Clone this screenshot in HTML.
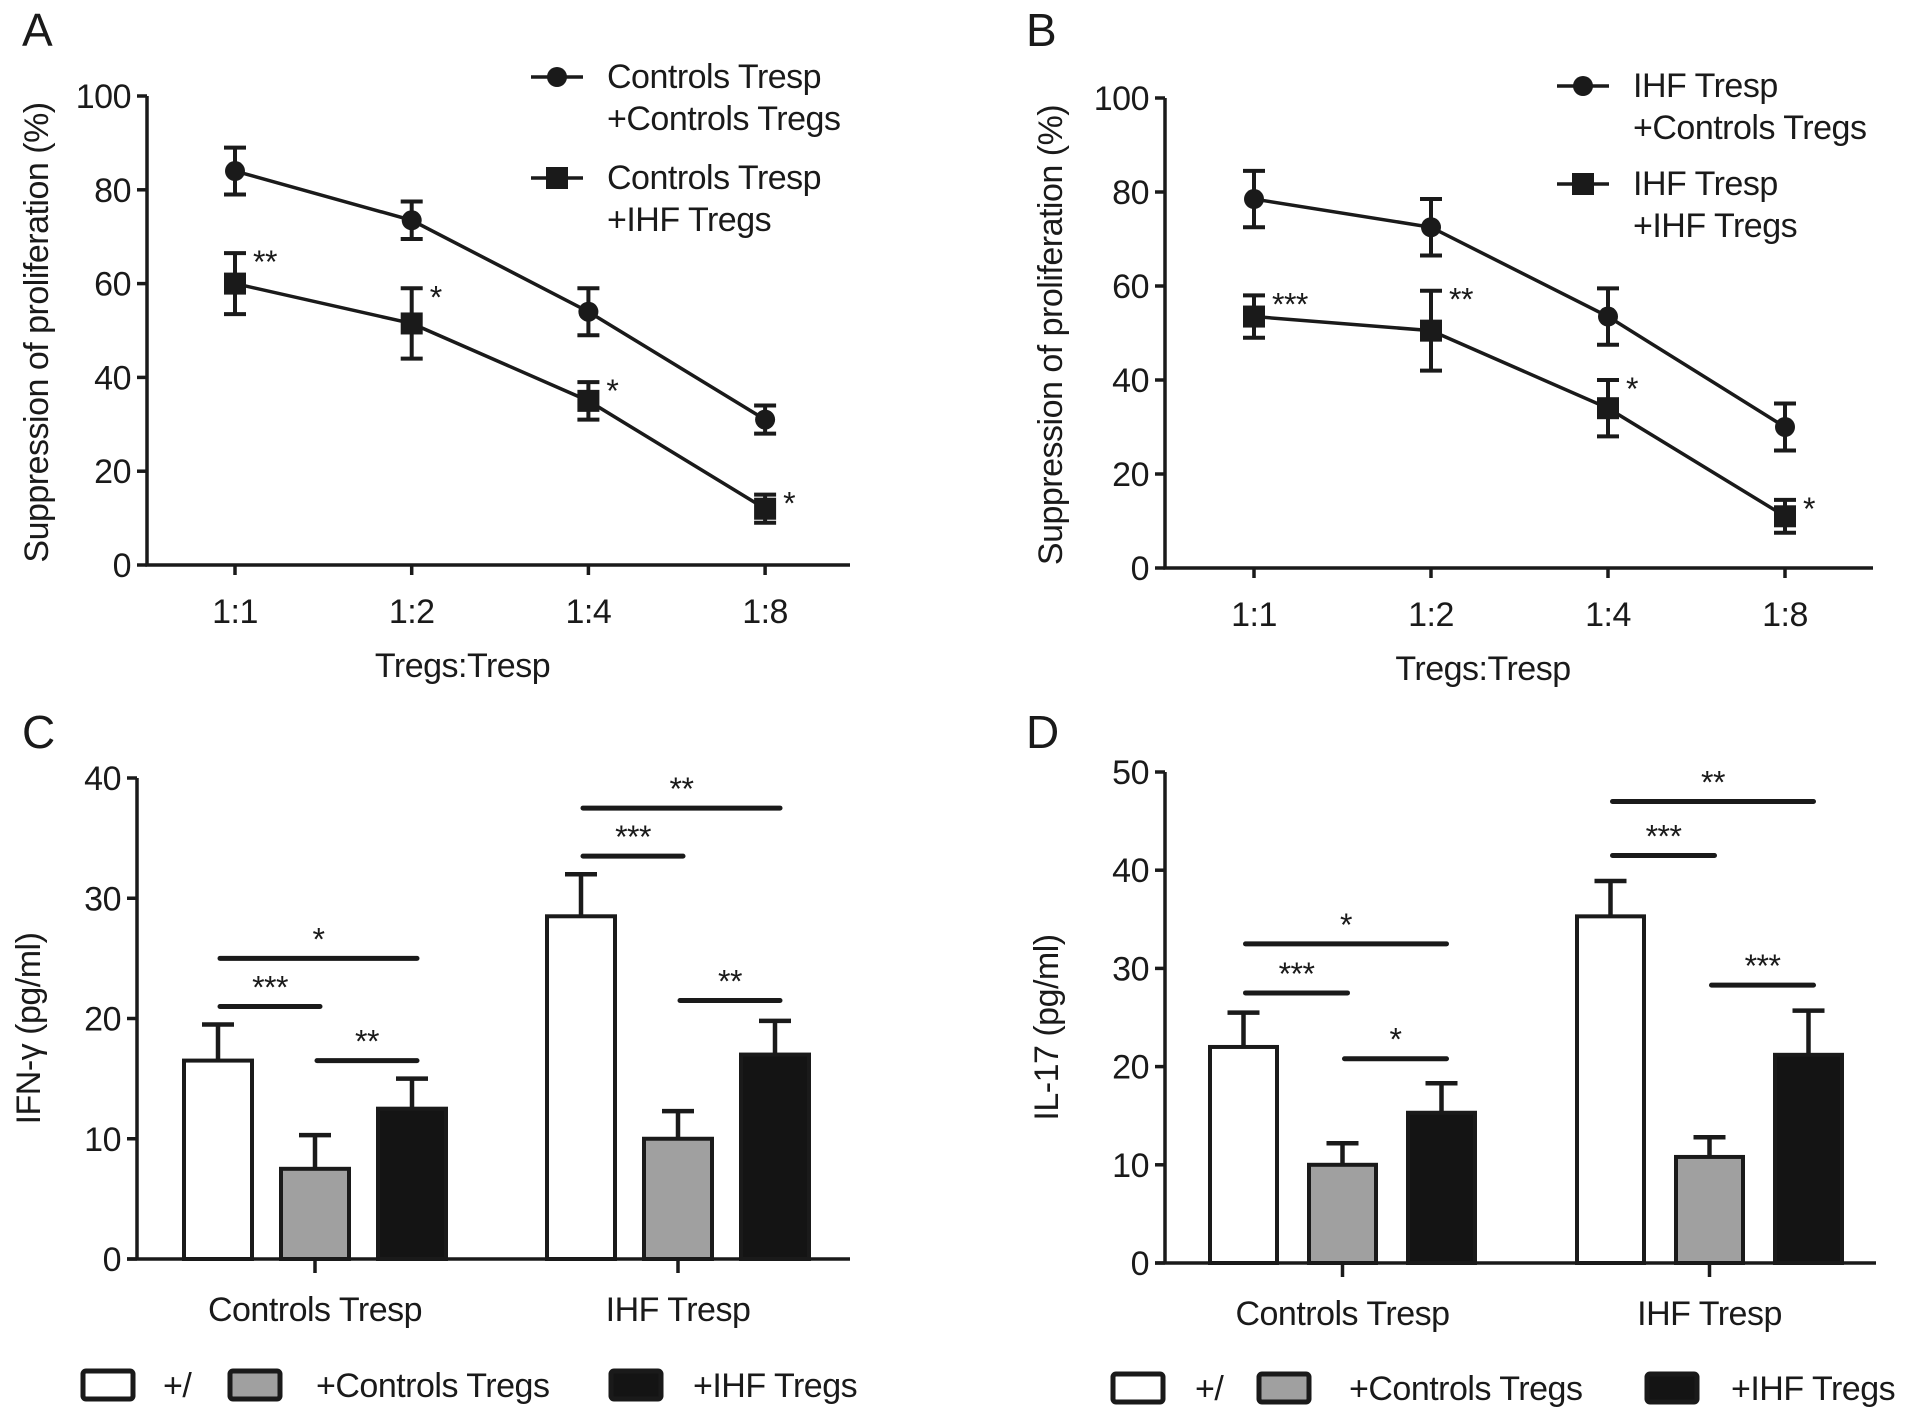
<!DOCTYPE html>
<html><head><meta charset="utf-8">
<style>
html,body{margin:0;padding:0;background:#fff;}
svg{display:block;font-family:"Liberation Sans",Arial,sans-serif;}
</style></head>
<body>
<svg id="fig" width="1913" height="1423" viewBox="0 0 1913 1423" xmlns="http://www.w3.org/2000/svg"></svg>
<script>
// ---------- DATA ----------
const ratioCats = ["1:1","1:2","1:4","1:8"];
const aCtrlTregs = [84, 73.5, 54, 31];
const aCtrlTregsErr = [5, 4, 5, 3];
const aIhfTregs = [60, 51.5, 35, 12];
const aIhfTregsErr = [6.5, 7.5, 4, 3];
const aStars = ["**","*","*","*"];
const bCtrlTregs = [78.5, 72.5, 53.5, 30];
const bCtrlTregsErr = [6, 6, 6, 5];
const bIhfTregs = [53.5, 50.5, 34, 11];
const bIhfTregsErr = [4.5, 8.5, 6, 3.5];
const bStars = ["***","**","*","*"];
const lineTicks = [0,20,40,60,80,100];

const groupCats = ["Controls Tresp","IHF Tresp"];
const cNone = [16.5, 28.5], cNoneErr = [3, 3.5];
const cCtrl = [7.5, 10], cCtrlErr = [2.8, 2.3];
const cIhf = [12.5, 17], cIhfErr = [2.5, 2.8];
const cTicks = [0,10,20,30,40];
const dNone = [22, 35.3], dNoneErr = [3.5, 3.6];
const dCtrl = [10, 10.8], dCtrlErr = [2.2, 2];
const dIhf = [15.3, 21.2], dIhfErr = [3, 4.5];
const dTicks = [0,10,20,30,40,50];
// brackets: [group, fromBar, toBar, value level, label]
const cBrackets = [[0,0,2,25,"*"],[0,0,1,21,"***"],[0,1,2,16.5,"**"],[1,0,2,37.5,"**"],[1,0,1,33.5,"***"],[1,1,2,21.5,"**"]];
const dBrackets = [[0,0,2,32.5,"*"],[0,0,1,27.5,"***"],[0,1,2,20.8,"*"],[1,0,2,47,"**"],[1,0,1,41.5,"***"],[1,1,2,28.3,"***"]];

// ---------- helpers ----------
const NS="http://www.w3.org/2000/svg";
const svg=document.getElementById('fig');
function mk(tag,attrs,parent){const e=document.createElementNS(NS,tag);for(const k in attrs)e.setAttribute(k,attrs[k]);(parent||svg).appendChild(e);return e;}
function txt(x,y,s,size,anchor,parent,extra){const t=mk('text',Object.assign({x:x,y:y,'font-size':size,'text-anchor':anchor||'middle',fill:'#1a1a1a','letter-spacing':'-0.5'},extra||{}),parent);t.textContent=s;return t;}
const LW=3.5;
const FS=34;

function panelLabel(x,y,s){const t=txt(x,y,s,46,'start');

}

// ---------- line panel ----------
function linePanel(p){
  const g=mk('g',{});
  
  
  const yS=v=>p.y0+(p.y100-p.y0)*v/100;
  const xS=i=>p.xs[0]+i*(p.xs[1]-p.xs[0]);
  const ax=mk('path',{d:`M${p.ax},${p.y100} L${p.ax},${p.y0} L${p.axEnd},${p.y0}`,stroke:'#1a1a1a','stroke-width':LW,fill:'none'},g);
  
  
  lineTicks.forEach(v=>{
    mk('line',{x1:p.ax-10,x2:p.ax,y1:yS(v),y2:yS(v),stroke:'#1a1a1a','stroke-width':LW},g);
    const t=txt(p.ax-16,yS(v)+12,String(v),FS,'end',g);
    
    
  });
  ratioCats.forEach((c,i)=>{
    mk('line',{x1:xS(i),x2:xS(i),y1:p.y0,y2:p.y0+10,stroke:'#1a1a1a','stroke-width':LW},g);
    const t=txt(xS(i),p.y0+58,c,FS,'middle',g);
    
    
  });
  const xt=txt((p.ax+p.axEnd)/2-36,p.y0+112,'Tregs:Tresp',FS,'middle',g);
  
  
  const yt=txt(0,0,'Suppression of proliferation (%)',FS,'middle',g,{transform:`translate(${p.ytx},${(p.y0+p.y100)/2+2}) rotate(-90)`});
  
  
  [[p.s1,p.e1,'circle'],[p.s2,p.e2,'square']].forEach(([vals,errs,shape])=>{
    const pl=mk('polyline',{points:vals.map((v,i)=>xS(i)+','+yS(v)).join(' '),fill:'none',stroke:'#1a1a1a','stroke-width':LW},g);
    
    
    vals.forEach((v,i)=>{
      const x=xS(i),yt1=yS(v+errs[i]),yb=yS(v-errs[i]);
      mk('path',{d:`M${x},${yt1} L${x},${yb} M${x-11},${yt1} L${x+11},${yt1} M${x-11},${yb} L${x+11},${yb}`,stroke:'#1a1a1a','stroke-width':LW+0.5,fill:'none'},g);
      let m;
      if(shape==='circle') m=mk('circle',{cx:x,cy:yS(v),r:10,fill:'#1a1a1a'},g);
      else m=mk('rect',{x:x-11,y:yS(v)-11,width:22,height:22,fill:'#1a1a1a'},g);
      
      
    });
  });
  p.stars.forEach((s,i)=>{
    const v=p.s2[i]+p.e2[i];
    const t=txt(xS(i)+18,yS(v)+20,s,32,'start',g);
    
    
  });
  // legend
  p.legend.forEach((L,k)=>{
    const lg=mk('g',{},g);
    
    
    const ly=L.y;
    mk('line',{x1:p.legX,x2:p.legX+52,y1:ly,y2:ly,stroke:'#1a1a1a','stroke-width':LW},lg);
    if(k===0) mk('circle',{cx:p.legX+26,cy:ly,r:10,fill:'#1a1a1a'},lg);
    else mk('rect',{x:p.legX+15,y:ly-11,width:22,height:22,fill:'#1a1a1a'},lg);
    txt(p.legX+76,ly+11,L.l1,FS,'start',lg);
    txt(p.legX+76,ly+53,L.l2,FS,'start',lg);
  });
}

linePanel({name:'panel-a-line-chart',ax:147,axEnd:850,y0:565,y100:96,xs:[235,411.7],ytx:48,
  s1:aCtrlTregs,e1:aCtrlTregsErr,s2:aIhfTregs,e2:aIhfTregsErr,stars:aStars,legX:531,
  legend:[{y:77,l1:'Controls Tresp',l2:'+Controls Tregs'},{y:178,l1:'Controls Tresp',l2:'+IHF Tregs'}]});
linePanel({name:'panel-b-line-chart',ax:1165,axEnd:1873,y0:568,y100:98,xs:[1254,1431],ytx:1062,
  s1:bCtrlTregs,e1:bCtrlTregsErr,s2:bIhfTregs,e2:bIhfTregsErr,stars:bStars,legX:1557,
  legend:[{y:86,l1:'IHF Tresp',l2:'+Controls Tregs'},{y:184,l1:'IHF Tresp',l2:'+IHF Tregs'}]});

// ---------- bar panel ----------
function barPanel(p){
  const g=mk('g',{});
  
  
  const ymax=p.ticks[p.ticks.length-1];
  const yS=v=>p.y0+(p.yTop-p.y0)*v/ymax;
  const barX=(gi,bi)=>p.gStart[gi]+bi*p.step;
  const ax=mk('path',{d:`M${p.ax},${p.yTop} L${p.ax},${p.y0} M${p.ax-10},${p.y0} L${p.axEnd},${p.y0}`,stroke:'#1a1a1a','stroke-width':LW,fill:'none'},g);
  
  
  p.ticks.forEach(v=>{
    mk('line',{x1:p.ax-10,x2:p.ax,y1:yS(v),y2:yS(v),stroke:'#1a1a1a','stroke-width':LW},g);
    const t=txt(p.ax-16,yS(v)+12,String(v),FS,'end',g);
    
    
  });
  const yt=txt(0,0,p.ytitle,FS,'middle',g,{transform:`translate(${p.ytx},${(p.y0+p.yTop)/2+10}) rotate(-90)`});
  
  
  const fills=['#fff','#a0a0a0','#141414'];
  const series=[[p.none,p.noneErr],[p.ctrl,p.ctrlErr],[p.ihf,p.ihfErr]];
  groupCats.forEach((c,gi)=>{
    const cx=barX(gi,1)+p.bw/2;
    mk('line',{x1:cx,x2:cx,y1:p.y0,y2:p.y0+14,stroke:'#1a1a1a','stroke-width':LW},g);
    const t=txt(cx,p.y0+62,c,FS,'middle',g);
    
    
    series.forEach(([vals,errs],bi)=>{
      const x=barX(gi,bi),v=vals[gi],top=yS(v);
      const mx=x+p.bw/2,et=yS(v+errs[gi]);
      mk('path',{d:`M${mx},${top} L${mx},${et} M${mx-16},${et} L${mx+16},${et}`,stroke:'#1a1a1a','stroke-width':LW+1,fill:'none'},g);
      const r=mk('rect',{x:x,y:top,width:p.bw,height:p.y0-top,fill:fills[bi],stroke:'#1a1a1a','stroke-width':LW+0.5},g);
      
      
    });
  });
  p.brackets.forEach(([gi,a,b,lvl,lab])=>{
    const x1=barX(gi,a)+p.bw/2+2, x2=barX(gi,b)+p.bw/2+5;
    const y=yS(lvl);
    const l=mk('line',{x1:x1,x2:x2,y1:y,y2:y,stroke:'#1a1a1a','stroke-width':5,'stroke-linecap':'round'},g);
    
    
    const t=txt((x1+x2)/2,y-8,lab,32,'middle',g);
    
    
  });
  const labels=['+/','+Controls Tregs','+IHF Tregs'];
  p.leg.forEach((L,i)=>{
    const lg=mk('g',{},g);
    
    
    mk('rect',{x:L[0],y:p.legY-14,width:50,height:28,rx:3,fill:fills[i],stroke:'#1a1a1a','stroke-width':5},lg);
    txt(L[1],p.legY+12,labels[i],FS,'start',lg);
  });
}

barPanel({name:'panel-c-bar-chart',ax:137,axEnd:850,y0:1259,yTop:778,ticks:cTicks,ytx:40,ytitle:'IFN-γ (pg/ml)',
  gStart:[184,547],step:97,bw:68,none:cNone,noneErr:cNoneErr,ctrl:cCtrl,ctrlErr:cCtrlErr,ihf:cIhf,ihfErr:cIhfErr,
  brackets:cBrackets,legY:1385,leg:[[83,163],[230,316],[611,693]]});
barPanel({name:'panel-d-bar-chart',ax:1165,axEnd:1876,y0:1263,yTop:772,ticks:dTicks,ytx:1058,ytitle:'IL-17 (pg/ml)',
  gStart:[1210,1577],step:99,bw:67,none:dNone,noneErr:dNoneErr,ctrl:dCtrl,ctrlErr:dCtrlErr,ihf:dIhf,ihfErr:dIhfErr,
  brackets:dBrackets,legY:1388,leg:[[1113,1195],[1259,1349],[1647,1731]]});

panelLabel(22,46,'A');
panelLabel(1026,46,'B');
panelLabel(22,748,'C');
panelLabel(1026,748,'D');
</script>
</body></html>
